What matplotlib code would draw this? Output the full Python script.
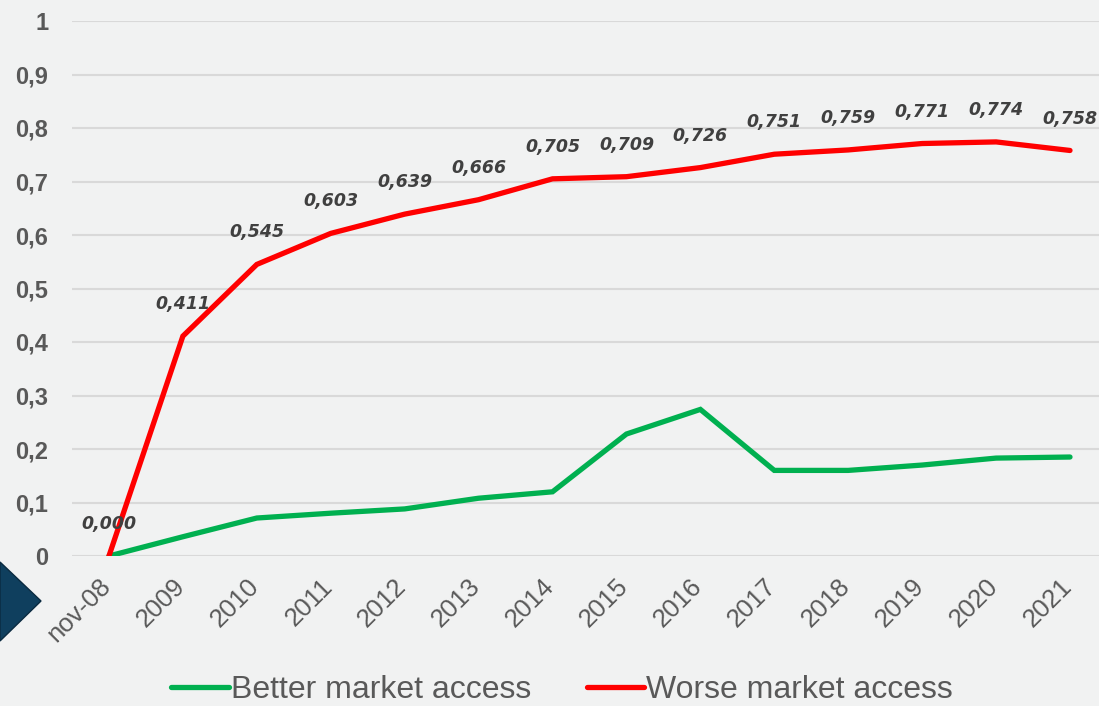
import matplotlib
matplotlib.use("Agg")
import matplotlib.pyplot as plt
from matplotlib.patches import Polygon

# data
years = ['nov-08', '2009', '2010', '2011', '2012', '2013', '2014',
         '2015', '2016', '2017', '2018', '2019', '2020', '2021']
better = [0.0, 0.036, 0.071, 0.080, 0.088, 0.108, 0.120,
          0.228, 0.274, 0.160, 0.160, 0.170, 0.183, 0.185]
worse = [0.0, 0.411, 0.545, 0.603, 0.639, 0.666, 0.705,
         0.709, 0.726, 0.751, 0.759, 0.771, 0.774, 0.758]
yticks = [0, 0.1, 0.2, 0.3, 0.4, 0.5, 0.6, 0.7, 0.8, 0.9, 1]

bg = '#f1f2f2'
grey = '#595959'
plt.rcParams['font.family'] = ['Liberation Sans', 'DejaVu Sans']

fig = plt.figure(figsize=(10.99, 7.06), dpi=100)
fig.patch.set_facecolor(bg)
ax = fig.add_axes([72 / 1099, 1 - 556 / 706, 1 - 72 / 1099, (556 - 21) / 706])
ax.set_facecolor(bg)
#sets up the figure and the plotting area

x = list(range(len(years)))
ax.plot(x, better, color='#00b050', lw=3.8, solid_capstyle='round',
        solid_joinstyle='miter', label='Better market access', zorder=3)
ax.plot(x, worse, color='#ff0000', lw=3.8, solid_capstyle='round',
        solid_joinstyle='miter', label='Worse market access', zorder=4)
#plots both lines

for i, v in enumerate(worse):
    ax.annotate(f'{v:.3f}'.replace('.', ','), (i, v), xytext=(0, 23),
                textcoords='offset points', ha='center', va='center',
                fontsize=12.5, fontweight='bold', fontstyle='italic',
                family='DejaVu Sans', color='#404040', annotation_clip=False,
                zorder=5)
#labels the red line values

ax.set_xlim(-0.5, (1099 - 109) / ((1070 - 109) / 13))
ax.set_ylim(0, 1)
ax.set_yticks(yticks)
ax.set_yticklabels([f'{t:g}'.replace('.', ',') for t in yticks],
                   fontsize=17, fontweight='bold', color=grey)
ax.set_xticks(x)
ax.set_xticklabels([])
for i, yr in enumerate(years):
    ax.annotate(yr, (i, 0), xycoords=('data', 'axes fraction'),
                xytext=(-7.5, -13), textcoords='offset points',
                rotation=45, ha='right', va='top', rotation_mode='anchor',
                fontsize=18.5, color=grey, annotation_clip=False)
#rotated year labels under the axis

ax.tick_params(axis='y', length=0, pad=17)
ax.tick_params(axis='x', length=0)
ax.grid(axis='y', color='#d9d9d9', lw=1.5)
ax.set_axisbelow(True)
for s in ax.spines.values():
    s.set_visible(False)
#axis styling

fig.legend(loc='center', bbox_to_anchor=(562 / 1099, 1 - 690 / 706),
           ncol=2, frameon=False, fontsize=23, labelcolor=grey,
           handlelength=1.8, handletextpad=0.05, columnspacing=1.75)

# dark blue arrow decoration at the left edge
arrow = Polygon([(0, 1 - 562 / 706), (41 / 1099, 1 - 601 / 706), (0, 1 - 641 / 706)],
                closed=True, transform=fig.transFigure, facecolor='#0f3f5e',
                edgecolor='#0a2a40', lw=1)
fig.patches.append(arrow)

fig.savefig('out.png', dpi=100, facecolor=bg)
